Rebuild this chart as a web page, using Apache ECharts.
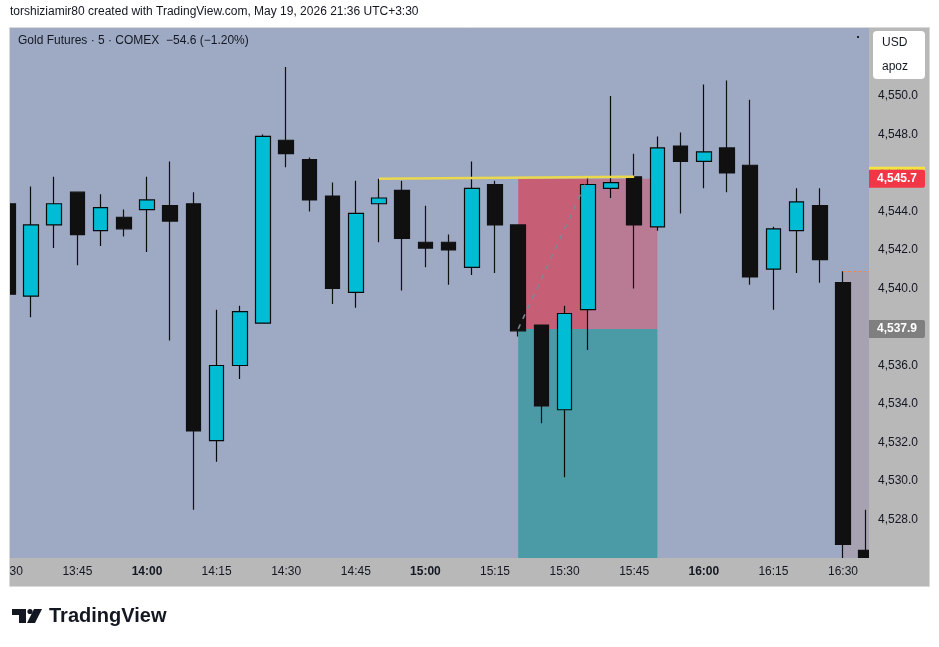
<!DOCTYPE html>
<html>
<head>
<meta charset="utf-8">
<script src="https://cdn.jsdelivr.net/npm/echarts@6/dist/echarts.min.js"></script>
<style>
  html, body { margin: 0; padding: 0; background: #fff; }
  #chart { width: 939px; height: 647px; }
</style>
</head>
<body>
<div id="chart"></div>
<script>
// 5 min bars, the last category is an empty slot so the zones reach the axis
const times = ['13:30','13:35','13:40','13:45','13:50','13:55','14:00','14:05','14:10','14:15',
  '14:20','14:25','14:30','14:35','14:40','14:45','14:50','14:55','15:00','15:05',
  '15:10','15:15','15:20','15:25','15:30','15:35','15:40','15:45','15:50','15:55',
  '16:00','16:05','16:10','16:15','16:20','16:25','16:30','16:35','16:40'];
const opens  = [4544.4,4539.6,4543.3,4545.0,4543.0,4543.7,4544.1,4544.3,4544.4,4532.1,
  4536.0,4538.2,4547.7,4546.7,4544.8,4539.8,4544.4,4545.1,4542.4,4542.4,
  4541.1,4545.4,4543.3,4538.1,4533.7,4538.9,4545.2,4545.8,4543.2,4547.4,
  4546.6,4547.3,4546.4,4541.0,4543.0,4544.3,4540.3,4526.4];
const highs  = [4544.5,4545.3,4545.8,4545.0,4544.9,4544.1,4545.8,4546.6,4545.0,4538.9,
  4539.1,4548.0,4551.5,4546.8,4545.5,4545.6,4545.7,4545.6,4544.3,4542.8,
  4546.6,4545.6,4543.3,4538.1,4539.1,4545.8,4550.0,4547.0,4547.9,4548.1,
  4550.6,4550.8,4549.8,4543.2,4545.2,4545.2,4540.9,4528.5];
const lows   = [4539.6,4538.5,4542.1,4541.2,4542.2,4542.7,4541.9,4537.3,4528.5,4531.0,
  4535.3,4538.2,4546.3,4544.0,4539.2,4539.0,4542.4,4539.9,4541.1,4540.2,
  4540.7,4540.8,4537.5,4533.0,4530.2,4536.8,4544.7,4540.0,4543.0,4543.9,
  4545.2,4545.0,4540.2,4538.9,4540.8,4540.3,4525.0,4524.8];
const closes = [4539.7,4543.3,4544.4,4542.8,4544.2,4543.1,4544.6,4543.5,4532.6,4536.0,
  4538.8,4547.9,4547.0,4544.6,4540.0,4543.9,4544.7,4542.6,4542.1,4542.0,
  4545.2,4543.3,4537.8,4533.9,4538.7,4545.4,4545.5,4543.3,4547.3,4546.6,
  4547.1,4546.0,4540.6,4543.1,4544.5,4541.5,4526.7,4525.2];

// position tool levels
const stopPrice = 4545.7;
const entryPrice = 4537.9;
const floorPrice = 4526.0;
const linePrices = [4545.7, 4545.8];   // yellow trend line ends
const rightEntry = 4540.9;

const font = 'Liberation Sans';
const txt = '#131722';

const chart = echarts.init(document.getElementById('chart'));

const ohlc = opens.map((o, i) => [o, closes[i], lows[i], highs[i]]);

function fmtPrice(v) {
  return v.toLocaleString('en-US', { minimumFractionDigits: 1, maximumFractionDigits: 1 });
}

const option = {
  animation: false,
  backgroundColor: '#ffffff',
  // wider than the visible pane so the first and last bars are cut like in TradingView
  grid: { left: -3.8, top: 28, width: 904.8, height: 530, outerBoundsMode: 'none', containLabel: false },
  xAxis: {
    type: 'category',
    data: times,
    boundaryGap: true,
    z: 6,
    axisLine: { show: false },
    axisTick: { show: false },
    splitLine: { show: false },
    axisLabel: {
      interval: 2,
      margin: 8,
      color: txt,
      fontSize: 12,
      fontFamily: font,
      formatter: function (v) {
        return v.endsWith(':00') ? '{b|' + v + '}' : v;
      },
      rich: { b: { fontWeight: 'bold', fontSize: 12, color: txt, fontFamily: font } }
    }
  },
  yAxis: {
    type: 'value',
    position: 'right',
    offset: -27,
    min: 4526,
    max: 4553.53,
    interval: 2,
    z: 6,
    axisLine: { show: false },
    axisTick: { show: false },
    splitLine: { show: false },
    axisLabel: {
      margin: 4,
      color: txt,
      fontSize: 12,
      fontFamily: font,
      showMinLabel: false,
      showMaxLabel: false,
      formatter: fmtPrice
    }
  },
  series: [
    {
      // zones and drawings, behind the candles
      name: 'tools',
      type: 'line',
      z: 1,
      data: [],
      markArea: {
        silent: true,
        itemStyle: { borderWidth: 0 },
        data: [
          [{ coord: ['15:20', stopPrice], itemStyle: { color: '#C65F76' } }, { coord: ['15:35', entryPrice] }],
          [{ coord: ['15:35', stopPrice], itemStyle: { color: '#B87B93' } }, { coord: ['15:50', entryPrice] }],
          [{ coord: ['15:20', entryPrice], itemStyle: { color: '#4A9BA5' } }, { coord: ['15:50', floorPrice] }],
          [{ coord: ['16:30', rightEntry], itemStyle: { color: '#A7A2B2' } }, { coord: ['16:40', floorPrice] }]
        ]
      },
      markLine: {
        silent: true,
        symbol: 'none',
        label: { show: false },
        data: [
          [{ coord: ['14:50', linePrices[0]], lineStyle: { color: '#EAD94C', width: 2.5, type: 'solid' } },
           { coord: ['15:45', linePrices[1]] }],
          [{ coord: ['15:20', entryPrice], lineStyle: { color: '#7E8794', width: 1.5, type: [5, 6] } },
           { coord: ['15:35', stopPrice] }],
          [{ coord: ['16:30', rightEntry], lineStyle: { color: '#EE8A4E', width: 1, type: [3, 2] } },
           { coord: ['16:40', rightEntry] }]
        ]
      }
    },
    {
      name: 'Gold Futures',
      type: 'candlestick',
      z: 3,
      clip: true,
      barWidth: 15,
      data: ohlc,
      itemStyle: {
        color: '#00BCD4',
        color0: '#101010',
        borderColor: '#0A0A0A',
        borderColor0: '#101010',
        borderWidth: 1.2
      }
    }
  ]
};

chart.setOption(option);

// price tags on the axis follow the y scale
const yStop = chart.convertToPixel({ yAxisIndex: 0 }, stopPrice);
const yEntry = chart.convertToPixel({ yAxisIndex: 0 }, entryPrice);

chart.setOption({
  graphic: [
    // plot background
    { type: 'rect', z: -5, silent: true, shape: { x: 10, y: 28, width: 859, height: 530 }, style: { fill: '#9EAAC3' } },
    // axis panels, above the candles, under the labels
    { type: 'rect', z: 5, silent: true, shape: { x: 869, y: 28, width: 60, height: 558 }, style: { fill: '#B8B8B8' } },
    { type: 'rect', z: 5, silent: true, shape: { x: 10, y: 558, width: 919, height: 28 }, style: { fill: '#B8B8B8' } },
    // white margins hide what spills out of the pane
    { type: 'rect', z: 20, silent: true, shape: { x: 0, y: 20, width: 10, height: 580 }, style: { fill: '#ffffff' } },
    { type: 'rect', z: 20, silent: true, shape: { x: 929, y: 20, width: 10, height: 580 }, style: { fill: '#ffffff' } },
    { type: 'rect', z: 21, silent: true, shape: { x: 9.5, y: 27.5, width: 920, height: 559 },
      style: { fill: 'none', stroke: '#D9D9D9', lineWidth: 1 } },
    // header
    { type: 'text', z: 21, left: 10, top: 6,
      style: { text: 'torshiziamir80 created with TradingView.com, May 19, 2026 21:36 UTC+3:30',
        fill: txt, font: '12px ' + font } },
    { type: 'text', z: 21, left: 18, top: 35,
      style: { text: 'Gold Futures · 5 · COMEX  \u221254.6 (\u22121.20%)', fill: txt, font: '12px ' + font } },
    { type: 'rect', z: 21, silent: true, shape: { x: 857, y: 36, width: 2, height: 2 }, style: { fill: '#222' } },
    // currency box
    { type: 'rect', z: 21, silent: true, shape: { x: 873, y: 31, width: 52, height: 48, r: 4 }, style: { fill: '#ffffff' } },
    { type: 'text', z: 22, left: 882, top: 37, style: { text: 'USD', fill: txt, font: '12px ' + font } },
    { type: 'text', z: 22, left: 882, top: 61, style: { text: 'apoz', fill: txt, font: '12px ' + font } },
    // price tags
    { type: 'rect', z: 21, silent: true, shape: { x: 869, y: yStop - 12, width: 56, height: 3 }, style: { fill: '#F5E23C' } },
    { type: 'rect', z: 21, silent: true, shape: { x: 869, y: yStop - 9, width: 56, height: 18, r: [0, 2, 2, 0] }, style: { fill: '#F23645' } },
    { type: 'text', z: 22, x: 897, y: yStop, style: { text: fmtPrice(stopPrice), fill: '#ffffff',
      font: 'bold 12px ' + font, align: 'center', verticalAlign: 'middle' } },
    { type: 'rect', z: 21, silent: true, shape: { x: 869, y: yEntry - 9, width: 56, height: 18, r: [0, 2, 2, 0] }, style: { fill: '#7F7F7F' } },
    { type: 'text', z: 22, x: 897, y: yEntry, style: { text: fmtPrice(entryPrice), fill: '#ffffff',
      font: 'bold 12px ' + font, align: 'center', verticalAlign: 'middle' } },
    // TradingView logo
    { type: 'polygon', z: 21, shape: { points: [[12, 609], [26, 609], [26, 623], [19, 623], [19, 615], [12, 615]] }, style: { fill: '#131722' } },
    { type: 'circle', z: 21, shape: { cx: 30, cy: 611.5, r: 2.6 }, style: { fill: '#131722' } },
    { type: 'polygon', z: 21, shape: { points: [[34, 609], [42, 609], [35, 623], [27, 623]] }, style: { fill: '#131722' } },
    { type: 'text', z: 21, left: 49, top: 606, style: { text: 'TradingView', fill: '#131722', font: 'bold 20px ' + font } }
  ]
});
</script>
</body>
</html>
